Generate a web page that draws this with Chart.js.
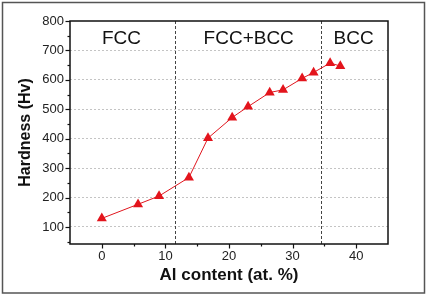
<!DOCTYPE html>
<html>
<head>
<meta charset="utf-8">
<script src="https://cdn.jsdelivr.net/npm/chart.js@4"></script>
<style>
  html, body { margin: 0; padding: 0; background: #fff; }
</style>
</head>
<body>
<canvas id="hardnessChart" width="428" height="296"></canvas>
<script>
// Al content (at. %)
const alContent = [0, 5.7, 9.0, 13.7, 16.7, 20.5, 23.0, 26.4, 28.5, 31.5, 33.3, 35.9, 37.5];
// Vickers hardness (Hv)
const hardness = [129, 177, 205, 268, 402, 472, 509, 557, 566, 605, 625, 657, 647];

// labelled ticks (minor ticks sit halfway between)
const xTicks = [0, 10, 20, 30, 40];
const yTicks = [100, 200, 300, 400, 500, 600, 700, 800];

// phase boundaries and region names
const phaseBounds = [11.5, 34.5];
const phaseNames = ["FCC", "FCC+BCC", "BCC"];
const phaseLabelX = [3.1, 23.1, 39.6];
const phaseLabelY = 740;

const FONT = "'Liberation Sans', Arial, sans-serif";

function stepList(min, max, step) {
  const out = [];
  for (let v = min; v <= max + 1e-9; v += step) out.push({ value: v });
  return out;
}

// dashed phase boundaries, region names, frame and tick marks
const phasePlugin = {
  id: "phases",
  beforeDatasetsDraw(chart) {
    const { ctx, chartArea, scales } = chart;
    ctx.save();
    ctx.strokeStyle = "#444";
    ctx.lineWidth = 1;
    ctx.setLineDash([3, 2]);
    phaseBounds.forEach((v) => {
      const x = Math.round(scales.x.getPixelForValue(v)) + 0.5;
      ctx.beginPath();
      ctx.moveTo(x, chartArea.top);
      ctx.lineTo(x, chartArea.bottom);
      ctx.stroke();
    });
    ctx.setLineDash([]);
    ctx.fillStyle = "#111";
    ctx.font = "19px " + FONT;
    ctx.textAlign = "center";
    ctx.textBaseline = "middle";
    phaseNames.forEach((name, i) => {
      ctx.fillText(name, scales.x.getPixelForValue(phaseLabelX[i]), scales.y.getPixelForValue(phaseLabelY));
    });
    ctx.restore();
  },
  afterDraw(chart) {
    const { ctx, chartArea, scales } = chart;
    const { left, right, top, bottom } = chartArea;
    ctx.save();
    ctx.strokeStyle = "#111";
    ctx.lineWidth = 1.5;
    ctx.strokeRect(left, top, right - left, bottom - top);

    ctx.lineWidth = 1.2;
    scales.x.ticks.forEach((t) => {
      const x = Math.round(scales.x.getPixelForValue(t.value)) + 0.5;
      const len = xTicks.includes(t.value) ? 4.5 : 2.5;
      ctx.beginPath();
      ctx.moveTo(x, bottom);
      ctx.lineTo(x, bottom + len);
      ctx.stroke();
    });
    scales.y.ticks.forEach((t) => {
      const y = Math.round(scales.y.getPixelForValue(t.value)) + 0.5;
      const len = yTicks.includes(t.value) ? 4.5 : 2.5;
      ctx.beginPath();
      ctx.moveTo(left, y);
      ctx.lineTo(left - len, y);
      ctx.stroke();
    });

    // outer picture border
    ctx.strokeStyle = "#555";
    ctx.lineWidth = 1.5;
    ctx.strokeRect(2.5, 2.5, 422, 290.5);
    ctx.restore();
  }
};

new Chart(document.getElementById("hardnessChart"), {
  type: "scatter",
  data: {
    datasets: [
      {
        data: alContent.map((x, i) => ({ x: x, y: hardness[i] })),
        showLine: true,
        borderColor: "#e0161e",
        borderWidth: 1,
        backgroundColor: "#e3141c",
        pointStyle: "triangle",
        pointRadius: 5.8,
        pointBorderWidth: 0,
      },
    ],
  },
  options: {
    responsive: false,
    animation: false,
    layout: { padding: { left: 0, right: 40, top: 21, bottom: 0 } },
    plugins: { legend: { display: false }, tooltip: { enabled: false } },
    scales: {
      x: {
        type: "linear",
        min: -5,
        max: 45,
        afterBuildTicks: (s) => { s.ticks = stepList(0, 40, 5); },
        afterFit: (s) => { s.height = 52; },
        ticks: {
          autoSkip: false,
          maxRotation: 0,
          padding: 5,
          color: "#222",
          font: { family: FONT, size: 13 },
          callback: (v) => (xTicks.includes(v) ? v : ""),
        },
        grid: { drawOnChartArea: false, drawTicks: false },
        border: { display: false },
        title: {
          display: true,
          text: "Al content (at. %)",
          color: "#111",
          font: { family: FONT, size: 17, weight: "bold" },
          padding: { top: 0, bottom: 10 },
        },
      },
      y: {
        min: 42,
        max: 800,
        afterBuildTicks: (s) => { s.ticks = stepList(50, 800, 50); },
        afterFit: (s) => { s.width = 70; },
        ticks: {
          autoSkip: false,
          padding: 6,
          color: "#222",
          font: { family: FONT, size: 13 },
          callback: (v) => (yTicks.includes(v) ? v : ""),
        },
        grid: {
          drawTicks: false,
          lineWidth: 1,
          color: (c) => (c.tick && yTicks.includes(c.tick.value) && c.tick.value < 800 ? "#c4c4c4" : "transparent"),
        },
        border: { display: false, dash: [2, 2] },
        title: {
          display: true,
          text: "Hardness (Hv)",
          color: "#111",
          font: { family: FONT, size: 16, weight: "bold" },
          padding: { top: 16, bottom: 0 },
        },
      },
    },
  },
  plugins: [phasePlugin],
});
</script>
</body>
</html>
